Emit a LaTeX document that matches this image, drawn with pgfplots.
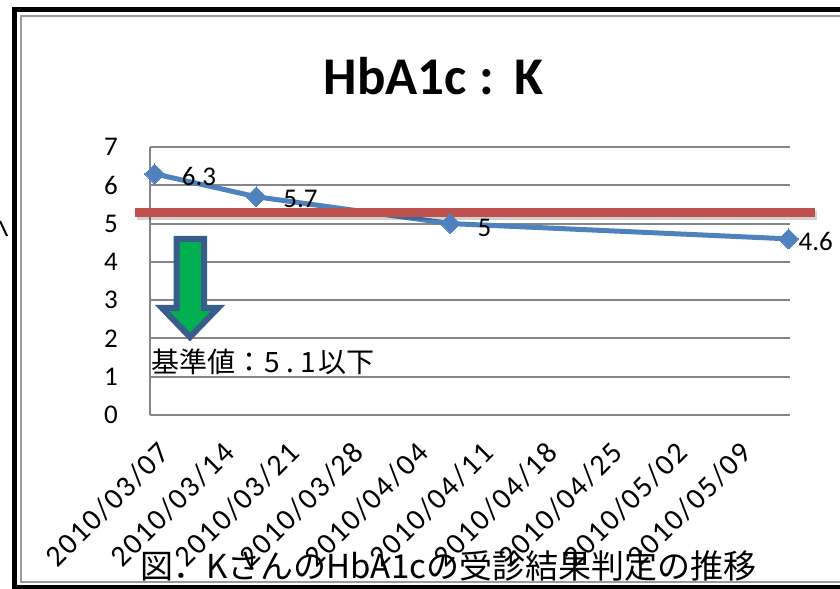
\documentclass[border=0pt]{standalone}
\usepackage{pgfplots}
\pgfplotsset{compat=1.18}
\usepackage{fontspec}
\setmainfont{Carlito}
\newfontfamily\cjk{Noto Sans CJK JP}
\newfontfamily\datefont{Carlito}[LetterSpace=6]
\definecolor{blueline}{HTML}{4F81BD}
\definecolor{redline}{HTML}{C0504D}
\definecolor{arrowgreen}{HTML}{00B050}
\definecolor{arrowblue}{HTML}{385D8A}
\definecolor{gridgray}{HTML}{868686}
\definecolor{framegray}{HTML}{9A9A9A}
\newcommand\tlf{\fontsize{27bp}{30bp}\selectfont}
\newcommand\dlf{\datefont\fontsize{30bp}{34bp}\selectfont}
\begin{document}
\begin{tikzpicture}
\useasboundingbox (0,0) rectangle (840bp,589bp);
% frame
\draw[line width=2bp, framegray] (900bp,573bp) -- (21bp,573bp) -- (21bp,7bp) -- (900bp,7bp);
\draw[line width=5.5bp, black, line join=miter] (900bp,579.5bp) -- (14.5bp,579.5bp) -- (14.5bp,1.5bp) -- (900bp,1.5bp);
\draw[line width=2bp, black] (0bp,368bp) -- (7bp,353bp);
% title
\node[font=\fontsize{53bp}{60bp}\selectfont\bfseries, anchor=base, inner sep=0pt] at (433.5bp,494bp) {HbA1c\hspace{13bp}:\hspace{20bp}K};
\begin{axis}[
  at={(150bp,174bp)}, anchor=south west,
  scale only axis, width=640bp, height=268bp,
  xmin=-0.5, xmax=68.76, ymin=0, ymax=7,
  ytick={0,1,2,3,4,5,6,7},
  xtick={0,7,14,21,28,35,42,49,56,63},
  xticklabels={2010/03/07,2010/03/14,2010/03/21,2010/03/28,2010/04/04,2010/04/11,2010/04/18,2010/04/25,2010/05/02,2010/05/09},
  yticklabel={\tlf\pgfmathprintnumber{\tick}},
  axis x line*=bottom, axis y line*=left,
  axis line style={draw=gridgray, line width=2bp},
  ymajorgrids, grid style={draw=gridgray, line width=2bp},
  major tick length=0pt,
  clip=false,
  tick label style={black},
  /pgf/number format/assume math mode=true,
  xticklabel style={font=\dlf, rotate=45, anchor=base east, inner sep=0pt, xshift=-16bp, yshift=-40bp},
  yticklabel style={font=\tlf, inner sep=0pt, xshift=-32bp},
]
\addplot[color=blueline, line width=5bp, mark=square*, mark size=7bp,
  mark options={rotate=45, solid, fill=blueline, draw=blueline, line width=0pt}]
  coordinates {(0,6.3) (11,5.7) (32,5.0) (68.6,4.6)};
\addplot[color=black, opacity=0.18, line width=9bp, forget plot, xshift=2bp, yshift=-3bp]
  coordinates {(-2.12,5.284) (71.47,5.284)};
\addplot[color=redline, line width=9bp] coordinates {(-2.12,5.284) (71.47,5.284)};
\node[anchor=west, inner sep=0pt, font=\tlf, xshift=27bp, yshift=-3bp] at (axis cs:0,6.3) {6.3};
\node[anchor=west, inner sep=0pt, font=\tlf, xshift=27bp, yshift=-2bp] at (axis cs:11,5.7) {5.7};
\node[anchor=west, inner sep=0pt, font=\tlf, xshift=27bp, yshift=-4bp] at (axis cs:32,5.0) {5};
\node[anchor=west, inner sep=0pt, font=\tlf, xshift=10bp, yshift=-3bp] at (axis cs:68.6,4.6) {4.6};
\end{axis}
% arrow
\draw[line width=6bp, draw=arrowblue, fill=arrowgreen, line join=miter]
  (176.5bp,350bp) -- (204bp,350bp) -- (204bp,281bp) -- (218bp,281bp) -- (190bp,252bp) -- (162bp,281bp) -- (176.5bp,281bp) -- cycle;
% threshold label
\node[anchor=base west, inner sep=0pt, font=\cjk\fontsize{28bp}{30bp}\selectfont] at (151bp,216bp)
  {基準値：\makebox[19bp]{5}\makebox[17bp]{.}\makebox[19bp]{1}以下};
% caption
\node[anchor=base west, inner sep=0pt, font=\cjk\fontsize{33bp}{36bp}\selectfont] at (140bp,11bp)
  {図．KさんのHbA1cの受診結果判定の推移};
\end{tikzpicture}
\end{document}
